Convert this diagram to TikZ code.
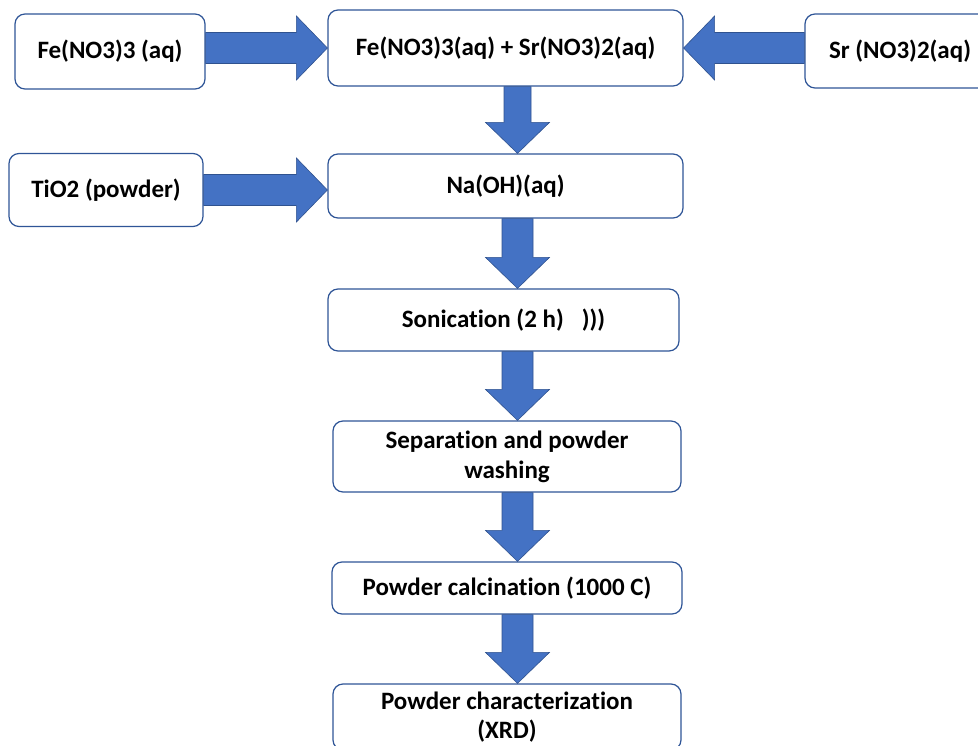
\documentclass[tikz,border=0pt]{standalone}
\usepackage{fontspec}
\setmainfont{Carlito}[Ligatures=CommonOff]
\usetikzlibrary{calc}
\definecolor{arrowblue}{HTML}{4472C4}
\definecolor{arrowedge}{HTML}{2F528F}
\definecolor{boxedge}{HTML}{2F5597}
\tikzset{
  procbox/.style={draw=boxedge,line width=1.2pt,rounded corners=10pt,fill=white,
    align=center,inner sep=0pt,font=\fontsize{25}{30}\selectfont\bfseries},
  blockarrow/.style={draw=arrowedge,fill=arrowblue,line width=0.6pt,
    to path={let \p1=($(\tikztotarget)-(\tikztostart)$),
      \n1={veclen(\x1,\y1)}, \n2={atan2(\y1,\x1)} in
      {[shift={(\tikztostart)},rotate=\n2]
       (0pt,-#1) -- (\n1-31pt,-#1) -- (\n1-31pt,-32pt) -- (\n1,0pt)
       -- (\n1-31pt,32pt) -- (\n1-31pt,#1) -- (0pt,#1) -- cycle}}},
  blockarrow/.default=15.5pt
}
\begin{document}
\begin{tikzpicture}[x=1pt,y=-1pt]
\useasboundingbox (0,0) rectangle (978,746);
% process boxes
\node[procbox,minimum width=190,minimum height=75] (fe) at (110,51.5) {Fe(NO3)3 (aq)};
\node[procbox,minimum width=355,minimum height=76] (mix) at (505.5,48) {Fe(NO3)3(aq) + Sr(NO3)2(aq)};
\node[procbox,minimum width=190,minimum height=74] (sr) at (900,51) {Sr (NO3)2(aq)};
\node[procbox,minimum width=194,minimum height=73] (tio) at (106,190) {TiO2 (powder)};
\node[procbox,minimum width=355,minimum height=64] (naoh) at (505.5,186) {Na(OH)(aq)};
\node[procbox,minimum width=351,minimum height=62] (sonic) at (503.5,320) {Sonication (2 h)\hspace{18pt})))};
\node[procbox,minimum width=348,minimum height=71] (sep) at (507,456.5) {Separation and powder\\washing};
\node[procbox,minimum width=350,minimum height=52] (calcin) at (507,588) {Powder calcination (1000 C)};
\node[procbox,minimum width=348,minimum height=66] (xrd) at (507,717) {Powder characterization\\[-1pt](XRD)};
% block arrows
\coordinate (spine) at (517.5,0);
\path[blockarrow] (fe.east |- mix.west) to (mix.west);
\path[blockarrow] (sr.west |- mix.east) to (mix.east);
\path[blockarrow] (tio.east) to (tio.east -| naoh.west);
\path[blockarrow=13.5pt] (mix.south -| spine) to (naoh.north -| spine);
\path[blockarrow] (naoh.south -| spine) to (sonic.north -| spine);
\path[blockarrow] (sonic.south -| spine) to (sep.north -| spine);
\path[blockarrow] (sep.south -| spine) to (calcin.north -| spine);
\path[blockarrow] (calcin.south -| spine) to (xrd.north -| spine);
\end{tikzpicture}
\end{document}
